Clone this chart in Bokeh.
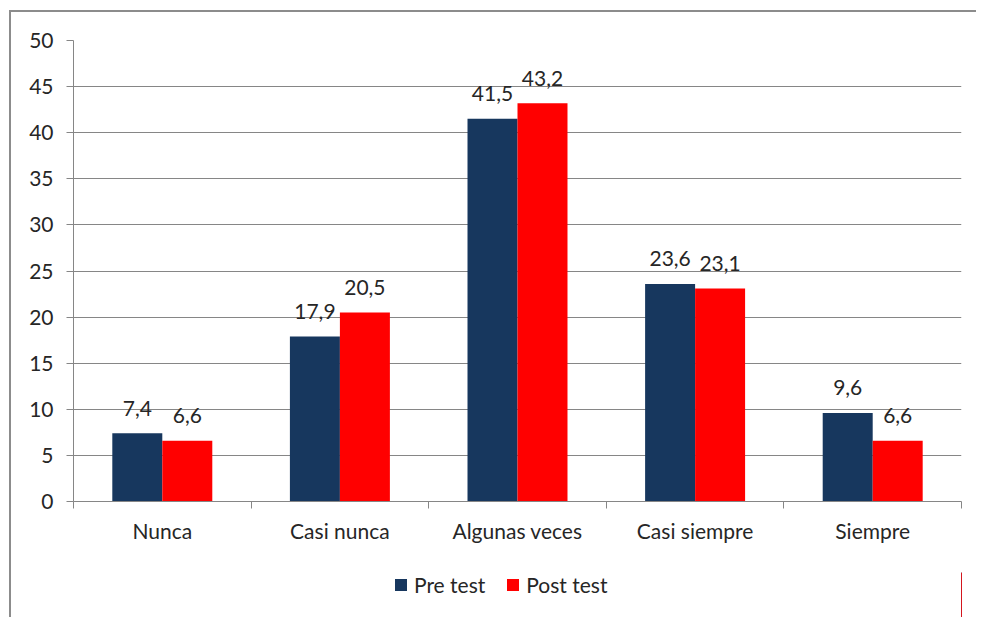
from bokeh.plotting import figure
from bokeh.layouts import column
from bokeh.models import ColumnDataSource, FixedTicker, Legend, LegendItem, Range1d
from bokeh.core.properties import value
from bokeh.embed import file_html
from bokeh.resources import INLINE
import numpy as np

categories = ["Nunca", "Casi nunca", "Algunas veces", "Casi siempre", "Siempre"]
pre_test = [7.4, 17.9, 41.5, 23.6, 9.6]
post_test = [6.6, 20.5, 43.2, 23.1, 6.6]
y_ticks = [0, 5, 10, 15, 20, 25, 30, 35, 40, 45, 50]
series_names = ["Pre test", "Post test"]
colors = ["#17375E", "#FF0000"]

FONT = "Lato"
FS = "21px"
TEXT_COLOR = "#262626"
GRID = "#868686"

centers = np.arange(len(categories)) + 0.5
bar_w = 0.2815

def fmt(v):
    return f"{v:.1f}".replace(".", ",")

src_pre = ColumnDataSource(dict(x=centers - bar_w / 2, top=pre_test,
                                lab=[fmt(v) for v in pre_test]))
src_post = ColumnDataSource(dict(x=centers + bar_w / 2, top=post_test,
                                 lab=[fmt(v) for v in post_test]))

p = figure(width=965, height=560, output_backend="svg", toolbar_location=None,
           x_range=Range1d(0, len(categories)), y_range=Range1d(0, 50))
p.min_border_left = 62
p.min_border_right = 15
p.min_border_top = 28
p.min_border_bottom = 71
p.outline_line_color = None
p.background_fill_color = "white"
p.border_fill_color = "white"

p.vbar(x="x", top="top", width=bar_w, bottom=0, source=src_pre,
       fill_color=colors[0], line_color=None)
p.vbar(x="x", top="top", width=bar_w, bottom=0, source=src_post,
       fill_color=colors[1], line_color=None)

for s in (src_pre, src_post):
    p.text(x="x", y="top", text="lab", source=s, text_align="center",
           text_baseline="alphabetic", y_offset=-25, text_font=value(FONT),
           text_font_size=FS, text_color=TEXT_COLOR)

# axes
p.xaxis.ticker = FixedTicker(ticks=list(centers), minor_ticks=list(range(len(categories) + 1)))
p.xaxis.major_label_overrides = {float(c): n for c, n in zip(centers, categories)}
p.xaxis.major_tick_line_color = None
p.xaxis.minor_tick_line_color = GRID
p.xaxis.minor_tick_out = 7
p.xaxis.minor_tick_in = 0
p.xaxis.axis_line_color = GRID
p.xaxis.major_label_standoff = 9
p.xaxis.major_label_text_font = FONT
p.xaxis.major_label_text_font_size = FS
p.xaxis.major_label_text_color = TEXT_COLOR

p.yaxis.ticker = FixedTicker(ticks=y_ticks)
p.yaxis.major_tick_line_color = GRID
p.yaxis.major_tick_out = 7
p.yaxis.major_tick_in = 0
p.yaxis.minor_tick_line_color = None
p.yaxis.axis_line_color = GRID
p.yaxis.major_label_standoff = 13
p.yaxis.major_label_text_font = FONT
p.yaxis.major_label_text_font_size = FS
p.yaxis.major_label_text_color = TEXT_COLOR

p.xgrid.visible = False
p.ygrid.ticker = FixedTicker(ticks=y_ticks)
p.ygrid.grid_line_color = GRID
p.ygrid.grid_line_width = 1

# legend strip below the chart (its bars lie outside this strip's view;
# only the legend swatches show)
pl = figure(width=965, height=45, output_backend="svg", toolbar_location=None,
            x_axis_type=None, y_axis_type=None,
            x_range=Range1d(-10, -9), y_range=Range1d(0, 1))
pl.min_border = 0
pl.outline_line_color = None
pl.grid.visible = False
pl.background_fill_color = "white"
pl.border_fill_color = "white"
l_pre = pl.vbar(x="x", top="top", width=bar_w, bottom=0, source=src_pre,
                fill_color=colors[0], line_color=None)
l_post = pl.vbar(x="x", top="top", width=bar_w, bottom=0, source=src_post,
                 fill_color=colors[1], line_color=None)

legend = Legend(items=[LegendItem(label=series_names[0], renderers=[l_pre]),
                       LegendItem(label=series_names[1], renderers=[l_post])],
                orientation="horizontal", location=(320, 20))
legend.padding = 0
legend.margin = 0
legend.border_line_color = None
legend.background_fill_alpha = 0
legend.glyph_width = 15
legend.glyph_height = 15
legend.label_height = 26
legend.label_standoff = 6
legend.spacing = 20
legend.label_text_font = FONT
legend.label_text_font_size = FS
legend.label_text_color = TEXT_COLOR
pl.add_layout(legend, "center")

layout = column(p, pl, spacing=0)
layout.styles = {"margin-left": "9px", "margin-top": "10px",
                 "border-left": "2px solid #8c8c8c", "border-top": "2px solid #8c8c8c"}

open("out.html", "w").write(file_html(layout, INLINE))
